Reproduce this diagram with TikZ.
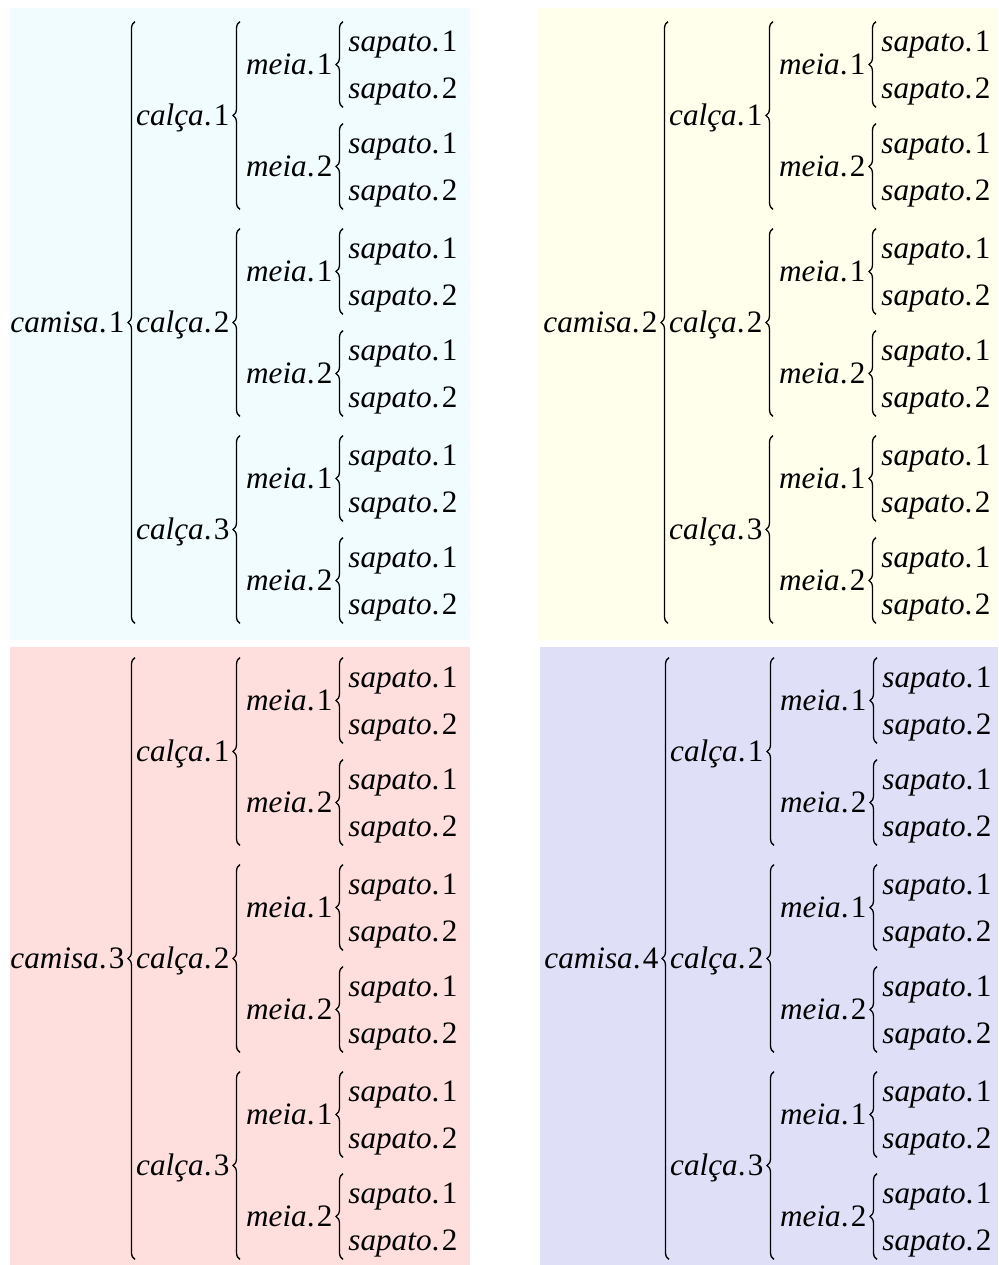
\documentclass[tikz,border=0pt]{standalone}
\usepackage{fontspec}
\setmainfont{Liberation Serif}
\usetikzlibrary{calc,decorations.pathreplacing}
\definecolor{paneA}{RGB}{240,252,255}
\definecolor{paneB}{RGB}{255,255,236}
\definecolor{paneC}{RGB}{255,222,222}
\definecolor{paneD}{RGB}{223,223,248}
\tikzset{
  item/.style={inner xsep=0pt,inner ysep=0pt,text height=14.5pt,text depth=4.5pt,
    font=\fontsize{15.6}{19}\selectfont},
  brc/.style={decorate,decoration={brace,amplitude=3.5pt},line width=0.65pt},
}
\newcommand{\lbl}[2]{\textit{#1}.\kern1.2pt#2}
\begin{document}
\begin{tikzpicture}[x=0.5pt,y=-0.5pt]
\useasboundingbox (0,0) rectangle (998,1265);
\fill[paneA] (10,8) rectangle (470,640);
\fill[paneB] (538,8) rectangle (998,640);
\fill[paneC] (10,647) rectangle (470,1265);
\fill[paneD] (540,647) rectangle (998,1265);
\foreach \p/\dx/\dy in {1/0/0,2/533/0,3/0/636,4/534/636}{
\begin{scope}[shift={(\dx,\dy)}]
\node[item,anchor=base east] (cam\p) at (125,332.5) {\lbl{camisa}{\p}};
\foreach \c in {1,2,3}{
  \node[item,anchor=base east] (cal\p\c) at (230,{(\c-1)*207+125.5}) {\lbl{calça}{\c}};
  \foreach \m in {1,2}{
    \node[item,anchor=base east] (mei\p\c\m) at (333,{(\c-1)*207+(\m-1)*102+74.5}) {\lbl{meia}{\m}};
    \foreach \s in {1,2}
      \node[item,anchor=base west] (sap\p\c\m\s) at (348,{(\c-1)*207+(\m-1)*102+(\s-1)*47+51}) {\lbl{sapato}{\s}};
    \coordinate (mx\p\c\m) at ($(mei\p\c\m.east)+(10,0)$);
    \draw[brc] (mx\p\c\m |- sap\p\c\m2.south) -- (mx\p\c\m |- sap\p\c\m1.north);
  }
  \coordinate (cx\p\c) at ($(cal\p\c.east)+(10,0)$);
  \draw[brc] (cx\p\c |- sap\p\c22.south) -- (cx\p\c |- sap\p\c11.north);
}
\coordinate (kx\p) at ($(cam\p.east)+(10,0)$);
\draw[brc] (kx\p |- sap\p322.south) -- (kx\p |- sap\p111.north);
\end{scope}
}
\end{tikzpicture}
\end{document}
